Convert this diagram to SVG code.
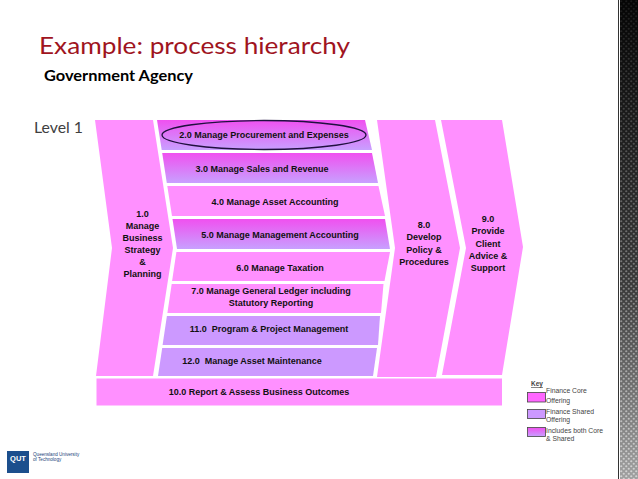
<svg xmlns="http://www.w3.org/2000/svg" width="638" height="479" viewBox="0 0 638 479">
  <defs>
    <linearGradient id="both" x1="0" y1="0" x2="0" y2="1">
      <stop offset="0" stop-color="#F050F0"/>
      <stop offset="1" stop-color="#C8A0FF"/>
    </linearGradient>
    <linearGradient id="strip" x1="0" y1="0" x2="0" y2="1">
      <stop offset="0" stop-color="#050505"/>
      <stop offset="0.6" stop-color="#3a3a3a"/>
      <stop offset="1" stop-color="#a0a0a0"/>
    </linearGradient>
    <linearGradient id="fade" x1="0" y1="0" x2="0" y2="1">
      <stop offset="0" stop-color="#fff" stop-opacity="0.15"/>
      <stop offset="1" stop-color="#fff" stop-opacity="1"/>
    </linearGradient>
    <pattern id="dots" width="5" height="5" patternUnits="userSpaceOnUse">
      <circle cx="1.25" cy="1.25" r="1.1" fill="#fff"/>
      <circle cx="3.75" cy="3.75" r="1.1" fill="#fff"/>
    </pattern>
    <mask id="dotmask">
      <rect x="620" y="0" width="18" height="479" fill="url(#fade)"/>
    </mask>
  </defs>
  <style>
    .core { fill: #FF90FF; }
    .shared { fill: #CC99FF; }
    .both { fill: url(#both); }
    .lbl { font-family: "Liberation Sans", Arial, sans-serif; font-weight: bold; font-size: 9px; fill: #111; text-anchor: middle; }
    .key { font-family: "Liberation Sans", Arial, sans-serif; font-size: 6.8px; fill: #444; }
    .sw { stroke: #444; stroke-width: 0.8; }
  </style>

  <rect width="638" height="479" fill="#fff"/>

  <!-- decorative strip -->
  <g id="strip-deco">
    <line x1="618.5" y1="0" x2="618.5" y2="479" stroke="#333" stroke-width="1"/>
    <rect x="620" y="0" width="18" height="479" fill="url(#strip)"/>
    <rect x="620" y="0" width="18" height="479" fill="url(#dots)" mask="url(#dotmask)" opacity="0.55"/>
  </g>

  <!-- titles -->
  <g id="title">
    <text x="39" y="54" font-family="Lato, 'Open Sans', sans-serif" font-size="24" fill="#A0141E" textLength="311" lengthAdjust="spacingAndGlyphs">Example: process hierarchy</text>
    <text x="44" y="81" font-family="Lato, 'Open Sans', sans-serif" font-size="15" font-weight="bold" fill="#000" textLength="149" lengthAdjust="spacingAndGlyphs">Government Agency</text>
    <text x="34" y="133" font-family="Lato, 'Open Sans', sans-serif" font-size="15" fill="#404040" textLength="49" lengthAdjust="spacingAndGlyphs">Level 1</text>
  </g>

  <g id="n1">
    <polygon class="core" points="95,120 153,120 173,248 153,376 96,376 112,248"/>
    <text class="lbl"><tspan x="142.5" y="217">1.0</tspan><tspan x="142.5" y="229">Manage</tspan><tspan x="142.5" y="241">Business</tspan><tspan x="142.5" y="253">Strategy</tspan><tspan x="142.5" y="265">&amp;</tspan><tspan x="142.5" y="277">Planning</tspan></text>
  </g>

  <g id="n2">
    <polygon class="both" points="157,120 365,120 372,150 161.7,150"/>
    <ellipse cx="264" cy="135" rx="102" ry="14.5" fill="none" stroke="#201040" stroke-width="1.3"/>
    <text class="lbl" x="264" y="138.2">2.0 Manage Procurement and Expenses</text>
  </g>
  <g id="n3">
    <polygon class="both" points="162.2,153 372,153 378,183 166.8,183"/>
    <text class="lbl" x="262" y="172">3.0 Manage Sales and Revenue</text>
  </g>
  <g id="n4">
    <polygon class="core" points="167.3,186 378.5,186 385,216 172,216"/>
    <text class="lbl" x="275" y="205">4.0 Manage Asset Accounting</text>
  </g>
  <g id="n5">
    <polygon class="both" points="172.5,219 385,219 390,249 177,249"/>
    <text class="lbl" x="280" y="238">5.0 Manage Management Accounting</text>
  </g>
  <g id="n6">
    <polygon class="core" points="176.4,252 390,252 384.5,281 172.1,281"/>
    <text class="lbl" x="280" y="271">6.0 Manage Taxation</text>
  </g>
  <g id="n7">
    <polygon class="core" points="171.7,284 383.5,284 381,313 167.4,313"/>
    <text class="lbl"><tspan x="271" y="294">7.0 Manage General Ledger including</tspan><tspan x="271" y="306">Statutory Reporting</tspan></text>
  </g>
  <g id="n11">
    <polygon class="shared" points="166.9,316 380,316 378,345 162.6,345"/>
    <text class="lbl" x="269" y="332" xml:space="preserve">11.0  Program &amp; Project Management</text>
  </g>
  <g id="n12">
    <polygon class="shared" points="162.2,348 377,348 373,376 158,376"/>
    <text class="lbl" x="252" y="364" xml:space="preserve">12.0  Manage Asset Maintenance</text>
  </g>

  <g id="n8">
    <polygon class="core" points="377,120 435,120 460,248 436,377 377,377 395,248"/>
    <text class="lbl"><tspan x="424" y="228">8.0</tspan><tspan x="424" y="240.3">Develop</tspan><tspan x="424" y="252.6">Policy &amp;</tspan><tspan x="424" y="265">Procedures</tspan></text>
  </g>
  <g id="n9">
    <polygon class="core" points="441,120 502,120 523,247 502,375 442,375 466,248"/>
    <text class="lbl"><tspan x="488" y="222">9.0</tspan><tspan x="488" y="234.3">Provide</tspan><tspan x="488" y="246.6">Client</tspan><tspan x="488" y="259">Advice &amp;</tspan><tspan x="488" y="271.3">Support</tspan></text>
  </g>

  <g id="n10">
    <rect class="core" x="96.5" y="378.5" width="405.5" height="27"/>
    <text class="lbl" x="259" y="395">10.0 Report &amp; Assess Business Outcomes</text>
  </g>

  <g id="connectors"></g>

  <!-- key -->
  <g id="legend">
    <text x="531" y="386" font-family="'Liberation Sans', Arial, sans-serif" font-size="6.5" font-weight="bold" fill="#444" text-decoration="underline">Key</text>
    <rect class="sw" x="527.5" y="392.5" width="18" height="9.5" fill="#FF66FF"/>
    <text class="key"><tspan x="546" y="393">Finance Core</tspan><tspan x="546" y="402.5">Offering</tspan></text>
    <rect class="sw" x="527.5" y="409.5" width="18" height="9" fill="#CC99FF"/>
    <text class="key"><tspan x="546" y="414">Finance Shared</tspan><tspan x="546" y="422">Offering</tspan></text>
    <rect class="sw" x="527.5" y="427.5" width="18" height="9" fill="url(#both)"/>
    <text class="key"><tspan x="546" y="433">Includes both Core</tspan><tspan x="546" y="441">&amp; Shared</tspan></text>
  </g>

  <!-- logo -->
  <g id="logo">
    <rect x="7" y="451" width="22" height="22" fill="#1C4F8D"/>
    <text x="18" y="461" font-family="'Liberation Sans', Arial, sans-serif" font-size="7.5" font-weight="bold" fill="#fff" text-anchor="middle">QUT</text>
    <text font-family="'Liberation Sans', Arial, sans-serif" font-size="4.6" fill="#1C3F7A"><tspan x="33" y="456">Queensland University</tspan><tspan x="33" y="461">of Technology</tspan></text>
  </g>
</svg>
